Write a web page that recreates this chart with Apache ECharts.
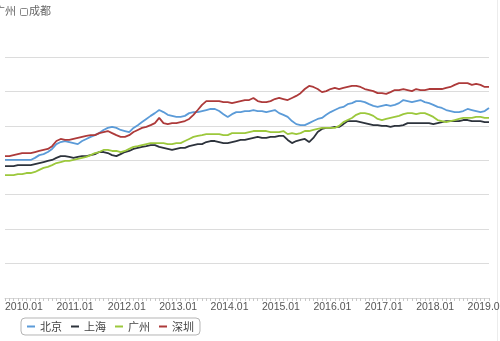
<!DOCTYPE html>
<html>
<head>
<meta charset="utf-8">
<script src="https://cdn.jsdelivr.net/npm/echarts@6/dist/echarts.min.js"></script>
<style>
  html, body { margin: 0; padding: 0; background: #ffffff; }
  #chart { width: 500px; height: 341px; }
</style>
</head>
<body>
<div id="chart"></div>
<script>
// Monthly series, 2010.01 – 2019.06
const startYear = 2010;
const monthCount = 114;
const categories = [];
for (let i = 0; i < monthCount; i++) {
  const y = startYear + Math.floor(i / 12);
  const m = (i % 12) + 1;
  categories.push(y + '.' + (m < 10 ? '0' + m : m));
}

const seriesNames = ['北京', '上海', '广州', '深圳'];

const beijing = [
  40.1, 40.1, 40.1, 40.1, 40.1, 40.1, 40.1, 40.7, 41.5, 41.8, 42.4, 43.3,
  44.7, 45.3, 45.6, 45.3, 45.0, 44.7, 45.6, 46.2, 46.8, 47.3, 47.9, 48.8,
  49.4, 49.7, 49.4, 48.8, 48.5, 48.2, 49.4, 50.2, 51.1, 52.0, 52.9, 53.7,
  54.6, 54.0, 53.2, 52.9, 52.6, 52.6, 52.9, 53.7, 54.0, 54.0, 54.3, 54.6,
  54.9, 54.9, 54.3, 53.4, 52.6, 53.4, 54.0, 54.0, 54.3, 54.3, 54.6, 54.3,
  54.3, 54.0, 54.3, 54.6, 53.7, 53.2, 52.6, 51.4, 50.5, 50.2, 50.2, 50.8,
  51.4, 52.0, 52.3, 53.2, 54.0, 54.6, 55.2, 55.5, 56.3, 56.6, 57.2, 57.2,
  56.9, 56.3, 55.8, 55.5, 55.8, 56.1, 55.8, 56.1, 56.6, 57.5, 57.2, 56.9,
  57.2, 57.5, 56.9, 56.6, 56.1, 55.5, 55.2, 54.6, 54.3, 54.0, 54.0, 54.3,
  54.9, 54.6, 54.3, 54.0, 54.3, 55.2
];

const shanghai = [
  38.3, 38.3, 38.3, 38.6, 38.6, 38.6, 38.6, 38.9, 39.2, 39.5, 39.8, 40.1,
  40.7, 41.2, 41.2, 41.0, 40.7, 41.0, 41.2, 41.2, 41.5, 41.8, 42.4, 42.4,
  42.1, 41.5, 41.2, 41.8, 42.4, 42.7, 43.3, 43.6, 43.9, 44.1, 44.4, 44.4,
  43.9, 43.6, 43.3, 43.0, 43.3, 43.6, 43.6, 44.1, 44.4, 44.7, 44.7, 45.3,
  45.6, 45.6, 45.3, 45.0, 45.0, 45.3, 45.6, 45.9, 45.9, 46.2, 46.5, 46.8,
  46.5, 46.5, 46.8, 46.8, 47.1, 47.1, 45.9, 45.0, 45.6, 45.9, 46.2, 45.3,
  46.5, 48.2, 49.1, 49.4, 49.4, 49.7, 49.7, 50.5, 51.4, 51.4, 51.4, 51.1,
  50.8, 50.5, 50.2, 50.2, 50.0, 50.0, 49.7, 50.0, 50.0, 50.2, 50.8, 50.8,
  50.8, 50.8, 50.8, 50.8, 50.5, 50.8, 51.1, 51.4, 51.4, 51.4, 51.4, 51.7,
  51.7, 51.4, 51.4, 51.4, 51.1, 51.1
];

const guangzhou = [
  35.7, 35.7, 35.7, 36.0, 36.0, 36.3, 36.3, 36.6, 37.2, 37.8, 38.1, 38.6,
  39.2, 39.5, 39.8, 39.8, 40.1, 40.4, 40.7, 41.0, 41.5, 42.1, 42.4, 43.0,
  43.0, 42.7, 42.7, 42.4, 42.7, 43.3, 43.9, 44.1, 44.4, 44.7, 45.0, 45.0,
  45.0, 45.0, 44.7, 44.7, 45.0, 45.0, 45.6, 46.2, 46.8, 47.1, 47.3, 47.6,
  47.6, 47.6, 47.6, 47.3, 47.3, 47.9, 47.9, 47.9, 47.9, 48.2, 48.5, 48.5,
  48.5, 48.5, 48.2, 48.2, 48.2, 48.5, 47.6, 47.9, 47.6, 47.9, 48.5, 48.5,
  48.8, 49.1, 49.4, 49.4, 49.4, 49.4, 50.0, 51.1, 51.7, 52.3, 53.2, 53.7,
  53.7, 53.4, 52.9, 52.0, 51.7, 52.0, 52.3, 52.6, 52.9, 53.4, 53.7, 53.7,
  53.4, 53.7, 53.7, 53.2, 52.6, 51.7, 51.4, 51.1, 51.4, 51.7, 52.0, 52.3,
  52.3, 52.3, 52.6, 52.6, 52.3, 52.3
];

const shenzhen = [
  41.2, 41.2, 41.5, 41.8, 42.1, 42.1, 42.1, 42.4, 42.7, 43.0, 43.3, 44.1,
  45.6, 46.2, 45.9, 45.9, 46.2, 46.5, 46.8, 47.1, 47.3, 47.3, 47.9, 48.2,
  48.5, 47.9, 47.3, 46.8, 46.8, 47.3, 48.2, 48.8, 49.4, 49.7, 50.2, 50.8,
  52.3, 50.8, 50.5, 50.8, 50.8, 51.1, 51.4, 52.0, 53.2, 54.6, 56.1, 57.2,
  57.2, 57.2, 57.2, 56.9, 56.9, 56.6, 56.9, 57.2, 57.5, 57.5, 58.1, 57.2,
  56.9, 56.9, 57.2, 57.8, 58.1, 57.8, 57.5, 58.1, 58.7, 59.5, 60.7, 61.6,
  61.3, 60.7, 59.8, 60.1, 60.7, 61.0, 60.7, 61.0, 61.3, 61.6, 61.6, 61.3,
  60.7, 60.4, 60.1, 59.5, 59.5, 59.3, 59.8, 60.4, 60.4, 60.7, 60.4, 60.1,
  60.7, 60.4, 60.4, 60.7, 60.7, 60.7, 60.7, 61.0, 61.3, 61.9, 62.4, 62.4,
  62.4, 61.9, 62.2, 61.9, 61.3, 61.3
];

const seriesData = [beijing, shanghai, guangzhou, shenzhen];
const seriesColors = ['#5b9bd8', '#2d333c', '#9cc83c', '#ad3a3a'];

const chart = echarts.init(document.getElementById('chart'), null, { renderer: 'canvas' });

chart.setOption({
  backgroundColor: '#ffffff',
  animation: false,
  grid: {
    left: 5, right: 11, top: 57, bottom: 43,
    containLabel: false,
    outerBoundsMode: 'none'
  },
  legend: {
    data: seriesNames,
    left: 21,
    top: 318,
    orient: 'horizontal',
    padding: [3, 6],
    itemGap: 9,
    itemWidth: 8,
    itemHeight: 2,
    icon: 'rect',
    borderColor: '#b5b5b5',
    borderWidth: 1,
    borderRadius: 4,
    textStyle: { fontSize: 11, color: '#444', fontFamily: 'Noto Sans CJK SC' }
  },
  xAxis: {
    type: 'category',
    data: categories,
    boundaryGap: false,
    axisLine: { show: true, lineStyle: { color: '#d8d8d8', width: 1 } },
    axisTick: { show: true, interval: 0, length: 3, inside: false, lineStyle: { color: '#c8c8c8' } },
    axisLabel: {
      interval: function (idx) { return idx % 12 === 0; },
      align: 'left',
      margin: 4,
      fontSize: 10.5,
      color: '#555',
      fontFamily: 'Liberation Sans',
      hideOverlap: false
    },
    splitLine: { show: false }
  },
  yAxis: {
    type: 'value',
    min: 0,
    max: 70,
    interval: 10,
    axisLine: { show: false },
    axisTick: { show: false },
    axisLabel: { show: false },
    splitLine: { show: true, lineStyle: { color: '#dcdcdc', width: 1 } }
  },
  graphic: [
    {
      type: 'text',
      left: -6,
      top: 5,
      style: { text: '广州', fontSize: 11, fill: '#666', fontFamily: 'Noto Sans CJK SC' }
    },
    {
      type: 'rect',
      shape: { x: 20.5, y: 8.5, width: 7, height: 7, r: 1 },
      style: { fill: '#fff', stroke: '#888', lineWidth: 1 }
    },
    {
      type: 'text',
      left: 29,
      top: 5,
      style: { text: '成都', fontSize: 11, fill: '#666', fontFamily: 'Noto Sans CJK SC' }
    },
    {
      type: 'line',
      shape: { x1: 497.5, y1: 0, x2: 497.5, y2: 341 },
      style: { stroke: '#ececec', lineWidth: 1 }
    }
  ],
  series: seriesNames.map(function (name, i) {
    return {
      name: name,
      type: 'line',
      data: seriesData[i],
      showSymbol: false,
      symbol: 'none',
      lineStyle: { width: 1.8, color: seriesColors[i] },
      itemStyle: { color: seriesColors[i] }
    };
  })
});
</script>
</body>
</html>
